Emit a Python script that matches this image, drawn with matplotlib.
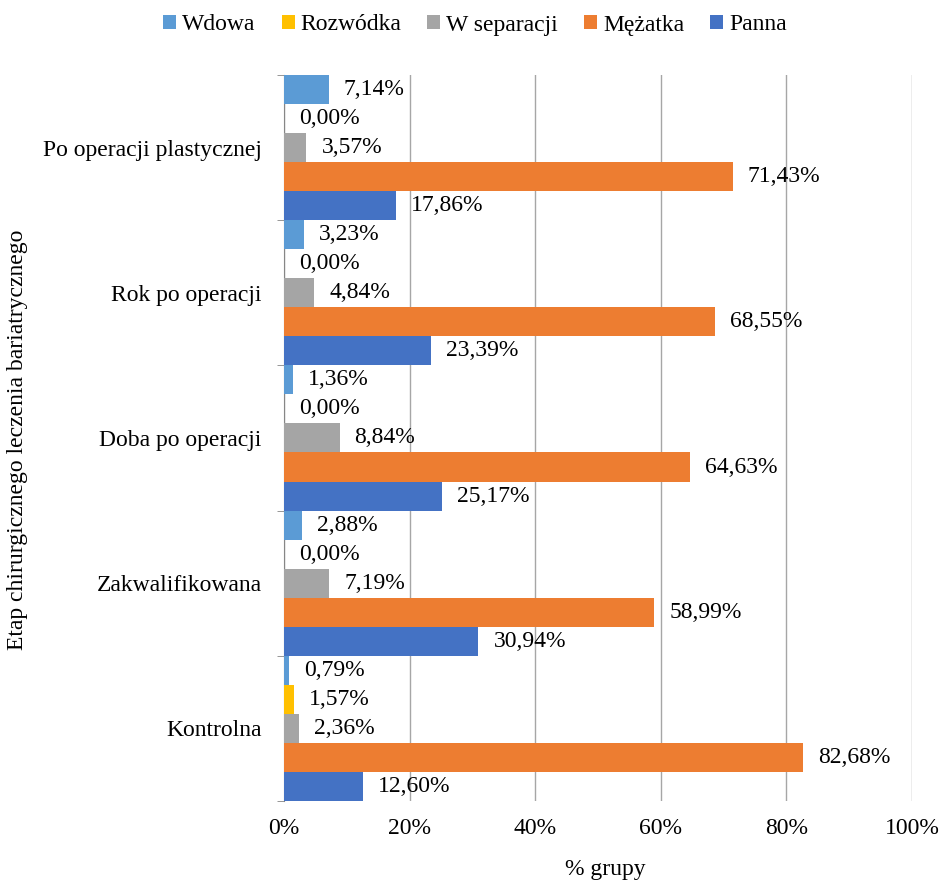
import numpy as np
import matplotlib.pyplot as plt

plt.rcParams['font.family'] = ['Liberation Serif', 'DejaVu Serif']

categories = ['Kontrolna', 'Zakwalifikowana', 'Doba po operacji', 'Rok po operacji',
              'Po operacji plastycznej']
series = ['Wdowa', 'Rozwódka', 'W separacji', 'Mężatka', 'Panna']
colors = ['#5b9bd5', '#ffc000', '#a5a5a5', '#ed7d31', '#4472c4']

wdowa = [0.79, 2.88, 1.36, 3.23, 7.14]
rozwodka = [1.57, 0.00, 0.00, 0.00, 0.00]
separacja = [2.36, 7.19, 8.84, 4.84, 3.57]
mezatka = [82.68, 58.99, 64.63, 68.55, 71.43]
panna = [12.60, 30.94, 25.17, 23.39, 17.86]
values = [wdowa, rozwodka, separacja, mezatka, panna]

FS = 17

fig = plt.figure(figsize=(9.41, 8.83), dpi=100)
ax = fig.add_axes([0.3018, 0.0929, 0.6674, 0.8222])

n = len(series)
h = 1.0 / n
y0 = np.arange(len(categories))
for j, (name, vals, c) in enumerate(zip(series, values, colors)):
    # Wdowa on top, Panna on the bottom of each group
    ypos = y0 - 0.5 + h * (n - 1 - j) + h / 2
    ax.barh(ypos, vals, height=h, color=c, label=name, zorder=3)
    for y, v in zip(ypos, vals):
        ax.text(v + 2.4, y, f'{v:.2f}%'.replace('.', ','), va='center', ha='left',
                fontsize=FS, zorder=4)

ax.set_xlim(0, 100)
ax.set_ylim(-0.5, len(categories) - 0.5)
ax.set_xticks(np.arange(0, 101, 20))
ax.set_xticklabels([f'{t}%' for t in range(0, 101, 20)], fontsize=FS)
ax.set_yticks(y0)
ax.set_yticklabels(categories, fontsize=FS)
ax.set_yticks(np.arange(-0.5, len(categories)), minor=True)
ax.tick_params(axis='y', which='major', length=0, pad=16)
ax.tick_params(axis='y', which='minor', length=5, color='#868686')
ax.tick_params(axis='x', length=0, pad=12)
ax.grid(axis='x', color='#a6a6a6', linewidth=1, zorder=0)
for s in ['top', 'right', 'bottom']:
    ax.spines[s].set_visible(False)
ax.spines['left'].set_color('#868686')

fig.text(605 / 941, 1 - 870 / 883, '% grupy', fontsize=FS, ha='center', va='center')
fig.text(18 / 941, 1 - 440 / 883, 'Etap chirurgicznego leczenia bariatrycznego',
         fontsize=FS, rotation=90, ha='center', va='center')

fig.legend(loc='center', bbox_to_anchor=(475 / 941, 1 - 25 / 883),
           ncol=5, frameon=False, fontsize=FS, handlelength=0.55, handleheight=0.55,
           handletextpad=0.25, columnspacing=1.1)

fig.savefig('out.png', dpi=100)
